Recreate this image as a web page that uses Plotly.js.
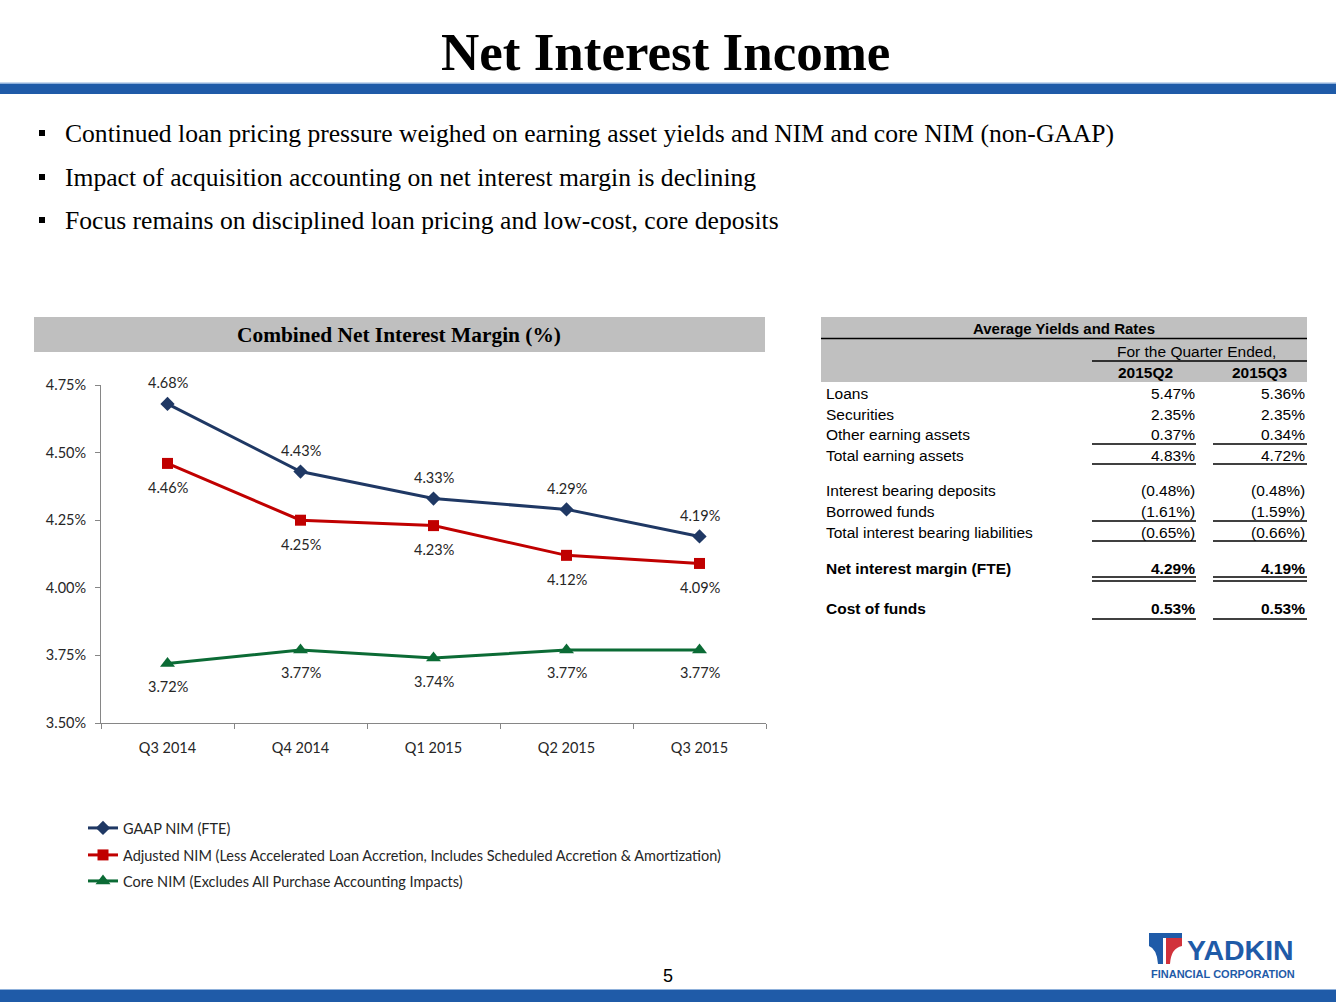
<!DOCTYPE html>
<html>
<head>
<meta charset="utf-8">
<script src="https://cdn.plot.ly/plotly-3.0.1.min.js"></script>
<style>
html,body{margin:0;padding:0;background:#fff;}
#chart{width:1336px;height:1002px;}
</style>
</head>
<body>
<div id="chart"></div>
<script>
// ---- data ----
const quarters = ['Q3 2014','Q4 2014','Q1 2015','Q2 2015','Q3 2015'];
const gaapNim = [4.68, 4.43, 4.33, 4.29, 4.19];
const adjustedNim = [4.46, 4.25, 4.23, 4.12, 4.09];
const coreNim = [3.72, 3.77, 3.74, 3.77, 3.77];
const seriesNames = [
  'GAAP NIM (FTE)',
  'Adjusted NIM (Less Accelerated Loan Accretion, Includes Scheduled Accretion & Amortization)',
  'Core NIM (Excludes All Purchase Accounting Impacts)'
];
const yTicks = [3.50, 3.75, 4.00, 4.25, 4.50, 4.75];

const tableRowLabels = ['Loans','Securities','Other earning assets','Total earning assets',
  'Interest bearing deposits','Borrowed funds','Total interest bearing liabilities',
  'Net interest margin (FTE)','Cost of funds'];
const tableQ2 = ['5.47%','2.35%','0.37%','4.83%','(0.48%)','(1.61%)','(0.65%)','4.29%','0.53%'];
const tableQ3 = ['5.36%','2.35%','0.34%','4.72%','(0.48%)','(1.59%)','(0.66%)','4.19%','0.53%'];
const tableColumns = ['2015Q2','2015Q3'];

const bullets = [
  'Continued loan pricing pressure weighed on earning asset yields and NIM and core NIM (non-GAAP)',
  'Impact of acquisition accounting on net interest margin is declining',
  'Focus remains on disciplined loan pricing and low-cost, core deposits'
];

// ---- layout helpers (pixel -> paper) ----
const W = 1336, H = 1002;
const px = x => x / W;
const py = y => 1 - y / H;

const chartFont = 'Lato, "Open Sans", sans-serif';
const serif = '"Liberation Serif", "Times New Roman", serif';
const sans = '"Liberation Sans", Arial, sans-serif';
const chartFs = 14.5;

const colors = ['#1F3864', '#C00000', '#0B6B35'];
const symbols = ['diamond', 'square', 'triangle-up'];
const markerSizes = [11, 11, 13];
const seriesData = [gaapNim, adjustedNim, coreNim];
const labelShift = [21, -24, -23];
const legends = ['legend', 'legend2', 'legend3'];

const traces = seriesData.map((vals, i) => ({
  type: 'scatter',
  mode: 'lines+markers',
  x: quarters,
  y: vals,
  name: seriesNames[i],
  legend: legends[i],
  line: {color: colors[i], width: 3},
  marker: {symbol: symbols[i], size: markerSizes[i], color: colors[i]},
  cliponaxis: false,
  hoverinfo: 'skip'
}));

const shapes = [];
const annotations = [];

// data labels (anchored to data coordinates)
seriesData.forEach((vals, i) => {
  vals.forEach((v, j) => {
    annotations.push({xref:'x', yref:'y', x:quarters[j], y:v, text:v.toFixed(2) + '%', showarrow:false,
      xanchor:'center', yanchor:'middle', yshift:labelShift[i],
      font:{family:chartFont, size:chartFs, color:'#262626'}});
  });
});

// top title bar
shapes.push({type:'rect', xref:'paper', yref:'paper', x0:0, x1:1, y0:py(94), y1:py(84), fillcolor:'#1F5BA8', line:{width:0}, layer:'below'});
shapes.push({type:'rect', xref:'paper', yref:'paper', x0:0, x1:1, y0:py(84), y1:py(82.5), fillcolor:'#8FB1DB', line:{width:0}, layer:'below'});
// bottom bar
shapes.push({type:'rect', xref:'paper', yref:'paper', x0:0, x1:1, y0:0, y1:py(990), fillcolor:'#1F5BA8', line:{width:0}, layer:'below'});
shapes.push({type:'rect', xref:'paper', yref:'paper', x0:0, x1:1, y0:py(990), y1:py(989), fillcolor:'#8FB1DB', line:{width:0}, layer:'below'});

annotations.push({xref:'paper', yref:'paper', x:px(665), y:py(52), text:'<b>Net Interest Income</b>', showarrow:false,
  xanchor:'center', yanchor:'middle', font:{family:serif, size:53, color:'#000'}});

// bullets
const bulletY = [133, 177, 220];
bullets.forEach((b, i) => {
  shapes.push({type:'rect', xref:'paper', yref:'paper', x0:px(39), x1:px(45), y0:py(bulletY[i]+3), y1:py(bulletY[i]-3), fillcolor:'#000', line:{width:0}});
  annotations.push({xref:'paper', yref:'paper', x:px(63), y:py(bulletY[i]), text:b, showarrow:false,
    xanchor:'left', yanchor:'middle', font:{family:serif, size:25.6, color:'#000'}});
});

// chart header
shapes.push({type:'rect', xref:'paper', yref:'paper', x0:px(34), x1:px(765), y0:py(352), y1:py(317), fillcolor:'#BFBFBF', line:{width:0}, layer:'below'});
annotations.push({xref:'paper', yref:'paper', x:px(399), y:py(335), text:'<b>Combined Net Interest Margin (%)</b>', showarrow:false,
  xanchor:'center', yanchor:'middle', font:{family:serif, size:21.4, color:'#000'}});

// table header
const tFs = 15.5;
shapes.push({type:'rect', xref:'paper', yref:'paper', x0:px(821), x1:px(1307), y0:py(382), y1:py(317), fillcolor:'#C0C0C0', line:{width:0}, layer:'below'});
const hline = (x0, x1, y, w) => shapes.push({type:'line', xref:'paper', yref:'paper', x0:px(x0), x1:px(x1), y0:py(y), y1:py(y), line:{color:'#000', width:w||1.3}});
hline(821, 1307, 338.5, 1.6);
hline(1092, 1307, 361, 1.3);
annotations.push({xref:'paper', yref:'paper', x:px(1064), y:py(328), text:'<b>Average Yields and Rates</b>', showarrow:false,
  xanchor:'center', yanchor:'middle', font:{family:sans, size:15, color:'#000'}});
annotations.push({xref:'paper', yref:'paper', x:px(1196), y:py(351), text:'For the Quarter Ended,', showarrow:false,
  xanchor:'center', yanchor:'middle', font:{family:sans, size:tFs, color:'#000'}});
const colCenters = [1145, 1260];
tableColumns.forEach((c, i) => annotations.push({xref:'paper', yref:'paper', x:px(colCenters[i]), y:py(373), text:'<b>'+c+'</b>', showarrow:false,
  xanchor:'center', yanchor:'middle', font:{family:sans, size:tFs, color:'#000'}}));

const rowY = [394, 414, 434, 455, 491, 511, 532, 568, 608];
const boldRows = [7, 8];
tableRowLabels.forEach((lab, i) => {
  const bold = boldRows.includes(i);
  const wrap = s => bold ? '<b>'+s+'</b>' : s;
  annotations.push({xref:'paper', yref:'paper', x:px(824), y:py(rowY[i]), text:wrap(lab), showarrow:false,
    xanchor:'left', yanchor:'middle', font:{family:sans, size:tFs, color:'#000'}});
  annotations.push({xref:'paper', yref:'paper', x:px(1197), y:py(rowY[i]), text:wrap(tableQ2[i]), showarrow:false,
    xanchor:'right', yanchor:'middle', font:{family:sans, size:tFs, color:'#000'}});
  annotations.push({xref:'paper', yref:'paper', x:px(1307), y:py(rowY[i]), text:wrap(tableQ3[i]), showarrow:false,
    xanchor:'right', yanchor:'middle', font:{family:sans, size:tFs, color:'#000'}});
});
const underlines = [444, 464, 521, 541, 577, 581, 619];
underlines.forEach(u => { hline(1092, 1196, u, 1.3); hline(1213, 1307, u, 1.3); });

// page number
annotations.push({xref:'paper', yref:'paper', x:px(668), y:py(976), text:'5', showarrow:false,
  xanchor:'center', yanchor:'middle', font:{family:sans, size:18, color:'#000'}});

// logo
shapes.push({type:'path', xref:'paper', yref:'paper', fillcolor:'#1F5BA8', line:{width:0},
  path:`M ${px(1149)},${py(933)} L ${px(1182)},${py(933)} L ${px(1182)},${py(938)} L ${px(1149)},${py(938)} Z`});
shapes.push({type:'path', xref:'paper', yref:'paper', fillcolor:'#1F5BA8', line:{width:0},
  path:`M ${px(1149)},${py(938)} L ${px(1163)},${py(938)} L ${px(1163)},${py(964)} L ${px(1158)},${py(964)} Q ${px(1157)},${py(949)} ${px(1149)},${py(946)} Z`});
shapes.push({type:'path', xref:'paper', yref:'paper', fillcolor:'#D1323B', line:{width:0},
  path:`M ${px(1166)},${py(938)} L ${px(1182)},${py(938)} L ${px(1182)},${py(946)} Q ${px(1171)},${py(948)} ${px(1170)},${py(964)} L ${px(1166)},${py(964)} Z`});
annotations.push({xref:'paper', yref:'paper', x:px(1185), y:py(950), text:'<b>YADKIN</b>', showarrow:false,
  xanchor:'left', yanchor:'middle', font:{family:sans, size:28.5, color:'#1F5BA8'}});
annotations.push({xref:'paper', yref:'paper', x:px(1149), y:py(973.5), text:'<b>FINANCIAL CORPORATION</b>', showarrow:false,
  xanchor:'left', yanchor:'middle', font:{family:sans, size:11, color:'#1F5BA8'}});

const legendBase = {xanchor:'left', yanchor:'middle', bgcolor:'rgba(0,0,0,0)', borderwidth:0,
  font:{family:chartFont, size:chartFs, color:'#262626'}, itemclick:false, itemdoubleclick:false};
const legendY = [828, 855, 881];

const layout = {
  width: W, height: H,
  margin: {l:0, r:0, t:0, b:0},
  paper_bgcolor: '#fff', plot_bgcolor: '#fff',
  showlegend: true,
  legend: Object.assign({x:px(83), y:py(legendY[0])}, legendBase),
  legend2: Object.assign({x:px(83), y:py(legendY[1])}, legendBase),
  legend3: Object.assign({x:px(83), y:py(legendY[2])}, legendBase),
  xaxis: {
    domain: [px(101), px(766)],
    type: 'category',
    range: [-0.5, 4.5],
    showline: true, linecolor: '#868686', linewidth: 1,
    ticks: 'outside', tickson: 'boundaries', ticklen: 5, tickcolor: '#868686',
    showgrid: false, zeroline: false,
    tickfont: {family: chartFont, size: chartFs, color: '#262626'},
    ticklabelstandoff: 12,
    fixedrange: true
  },
  yaxis: {
    domain: [py(723), py(385)],
    range: [3.5, 4.75],
    tickvals: yTicks,
    ticktext: yTicks.map(v => v.toFixed(2) + '%'),
    showline: true, linecolor: '#868686', linewidth: 1,
    ticks: 'outside', ticklen: 5, tickcolor: '#868686',
    showgrid: false, zeroline: false,
    tickfont: {family: chartFont, size: chartFs, color: '#262626'},
    ticklabelstandoff: 6,
    fixedrange: true
  },
  shapes: shapes,
  annotations: annotations
};

Plotly.newPlot('chart', traces, layout, {displayModeBar: false, staticPlot: true});
</script>
</body>
</html>
